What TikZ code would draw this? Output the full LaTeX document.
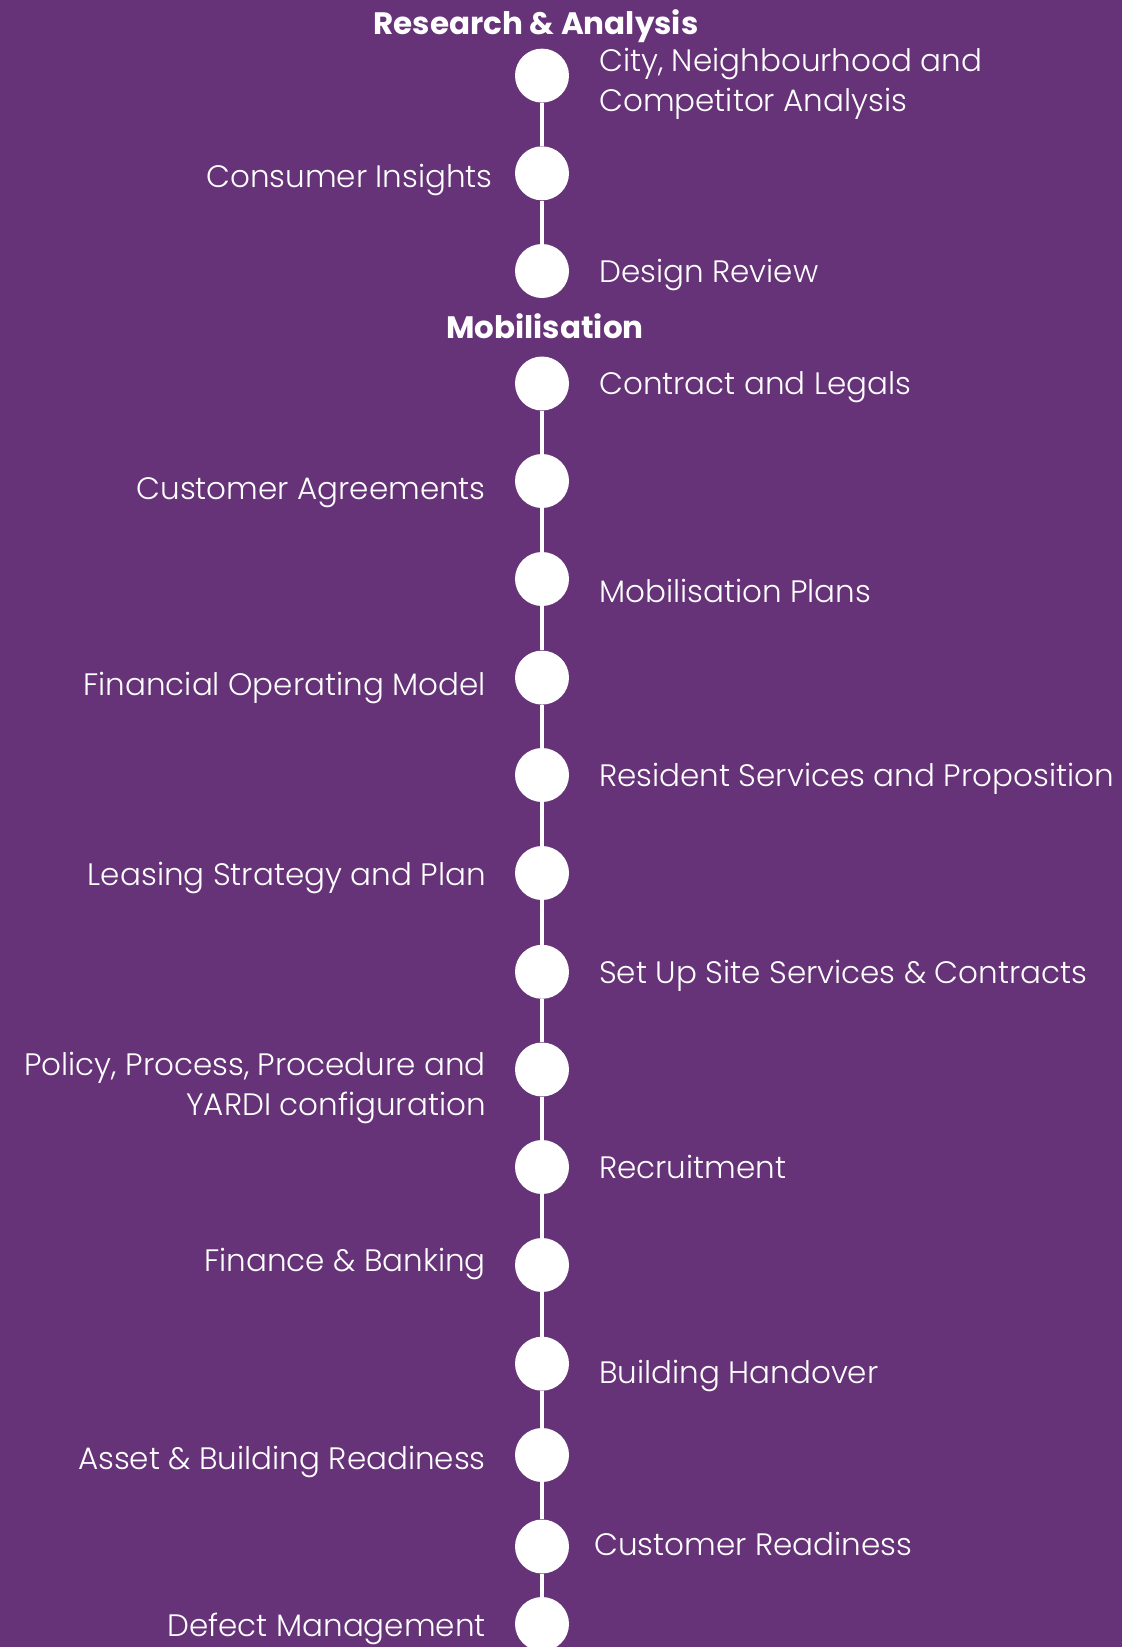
\documentclass[tikz,border=0pt]{standalone}
\usepackage{fontspec}
\setmainfont{Poppins}[UprightFont=* Light, BoldFont=* Bold]

\definecolor{plum}{RGB}{102,50,120}
\newcommand{\labelfont}{\fontsize{31}{40}\selectfont}
\newcommand{\phasefont}{\fontsize{31}{40}\selectfont\bfseries}

\tikzset{
  milestone/.style={circle, fill=white, minimum size=54pt, inner sep=0pt},
  spine/.style={draw=white, line width=4pt},
  rlabel/.style={anchor=base west, text=white, font=\labelfont, inner sep=0pt, align=left},
  llabel/.style={anchor=base east, text=white, font=\labelfont, inner sep=0pt, align=right},
  phase/.style={anchor=base, text=white, font=\phasefont, inner sep=0pt}
}

\begin{document}
\begin{tikzpicture}[x=1pt, y=-1pt]
  \fill[plum] (0,0) rectangle (1122,1647);
  \useasboundingbox (0,0) rectangle (1122,1647);

  % milestones down the spine
  \foreach \y [count=\i] in {75.6,173.3,271,383.5,481,579,677.6,775,873,971.8,
                             1069.5,1167,1265,1363.7,1455,1546.5,1624}
    \node[milestone] (m\i) at (542,\y) {};

  % spine, broken between the two phases
  \foreach \i/\n in {1/2,2/3,4/5,5/6,6/7,7/8,8/9,9/10,10/11,11/12,12/13,13/14,14/15,15/16,16/17}
    \draw[spine] (m\i) -- (m\n);

  % phase titles
  \node[phase] (research) at (536,34.5) {Research \& Analysis};
  \node[phase] (mobilisation) at (545,338) {Mobilisation};

  % right hand labels (two-line ones sit on their last baseline)
  \node[rlabel] (city) at (599,111) {City, Neighbourhood and\\Competitor Analysis};
  \node[rlabel] (design) at (599,282) {Design Review};
  \node[rlabel] (contract) at (599,394.5) {Contract and Legals};
  \node[rlabel] (plans) at (599,602.5) {Mobilisation Plans};
  \node[rlabel] (resident) at (599,786) {Resident Services and Proposition};
  \node[rlabel] (setup) at (599,983) {Set Up Site Services \& Contracts};
  \node[rlabel] (recruit) at (599,1178) {Recruitment};
  \node[rlabel] (handover) at (599,1383) {Building Handover};
  \node[rlabel] (custready) at (594,1555) {Customer Readiness};

  % left hand labels
  \node[llabel] (consumer) at (493,187.5) {Consumer Insights};
  \node[llabel] (agreements) at (486,499.5) {Customer Agreements};
  \node[llabel] (financial) at (486,695) {Financial Operating Model};
  \node[llabel] (leasing) at (486,885) {Leasing Strategy and Plan};
  \node[llabel] (policy) at (486,1115) {Policy, Process, Procedure and\\YARDI configuration};
  \node[llabel] (banking) at (486,1271.7) {Finance \& Banking};
  \node[llabel] (asset) at (486,1469) {Asset \& Building Readiness};
  \node[llabel] (defect) at (486,1636) {Defect Management};
\end{tikzpicture}
\end{document}
